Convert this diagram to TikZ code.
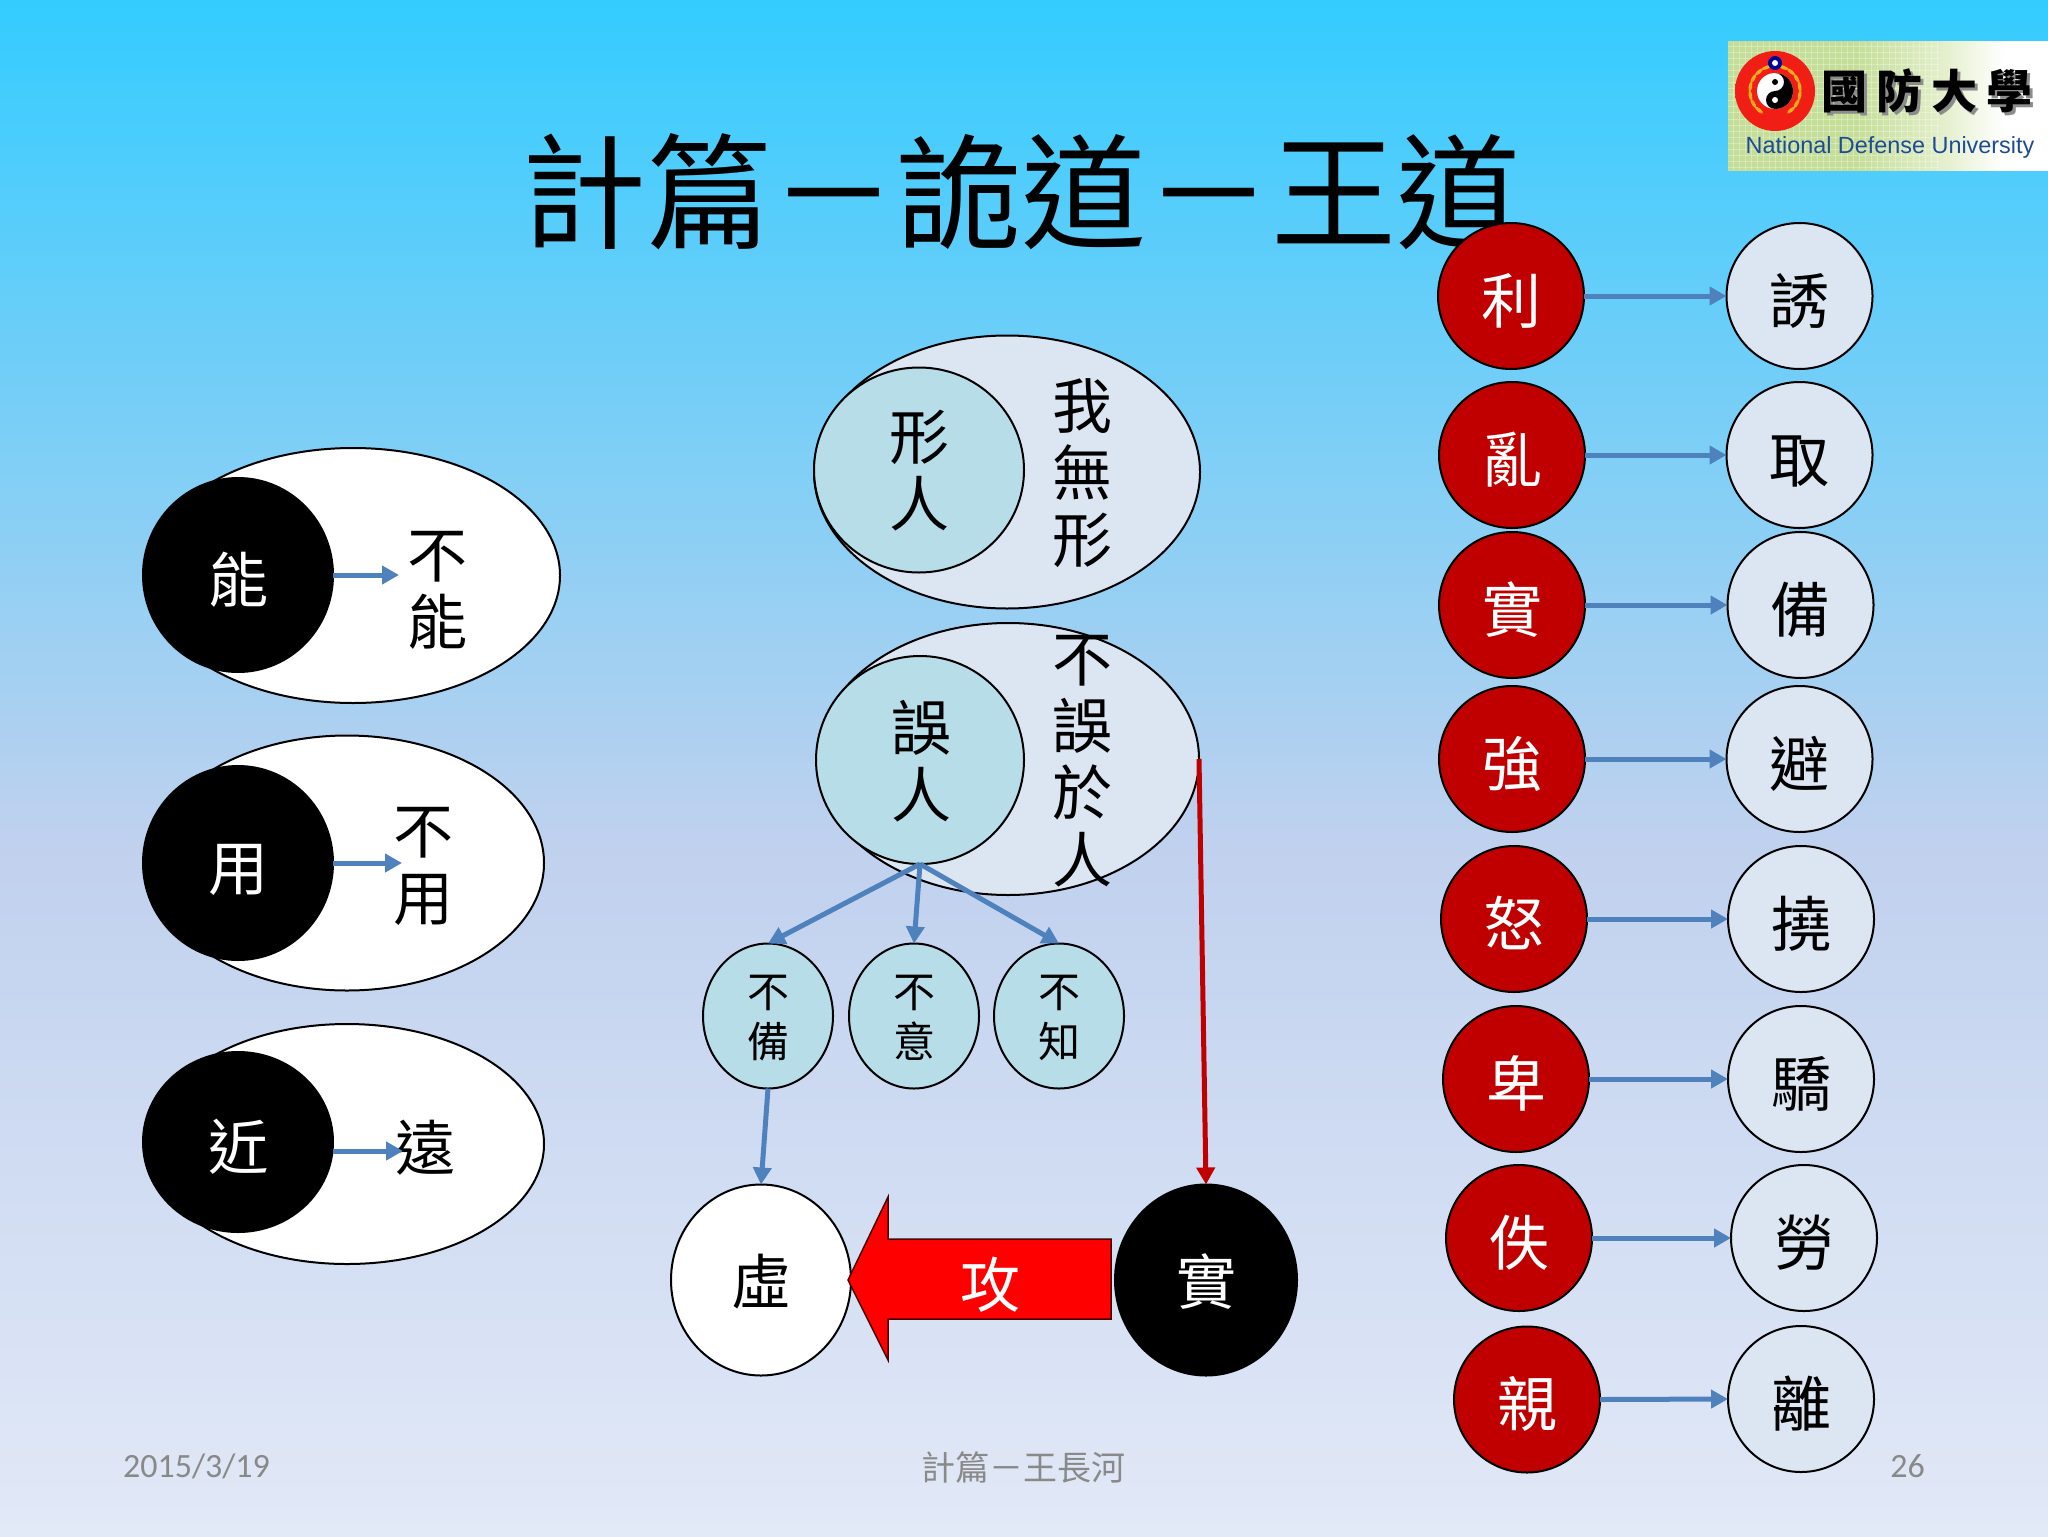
\documentclass[tikz,border=0pt]{standalone}
\usepackage{fontspec}
\setmainfont{Noto Sans CJK TC}
\newfontfamily\carlitofont{Carlito}
\newfontfamily\libfont{Liberation Sans}
\newfontfamily\logofont[LetterSpace=20]{Noto Sans CJK TC}
\usetikzlibrary{shapes.geometric,arrows.meta}
\definecolor{bgT}{RGB}{51,204,255}
\definecolor{bgM}{RGB}{192,209,238}
\definecolor{bgB}{RGB}{226,233,247}
\definecolor{pale}{RGB}{220,230,242}
\definecolor{aqua}{RGB}{183,222,232}
\definecolor{darkred}{RGB}{192,0,0}
\definecolor{linkblue}{RGB}{79,129,189}
\definecolor{footgrey}{RGB}{137,137,137}
\definecolor{logoG}{RGB}{196,222,152}
\definecolor{logoM}{RGB}{226,238,200}
\definecolor{logoB}{RGB}{30,75,150}
\definecolor{glowred}{RGB}{240,30,20}
\definecolor{laurel}{RGB}{250,170,30}
\pgfdeclareverticalshading{bgsh}{100bp}{color(0bp)=(bgB); color(25bp)=(bgB); color(47.5bp)=(bgM); color(75bp)=(bgT); color(100bp)=(bgT)}
\pgfdeclarehorizontalshading{logosh}{100bp}{color(0bp)=(logoG); color(25bp)=(logoG); color(45bp)=(logoG); color(58bp)=(logoM); color(68bp)=(white); color(100bp)=(white)}
\pgfdeclareradialshading{glowsh}{\pgfpoint{0bp}{0bp}}{color(0bp)=(glowred); color(36bp)=(glowred); color(50bp)=(logoG); color(100bp)=(logoG)}
\newcommand{\fsz}[2]{\fontsize{#1}{#2}\selectfont}
\tikzset{
  oval/.style 2 args={ellipse,draw=black,line width=1pt,inner sep=0pt,outer sep=0pt,minimum width=#1 pt,minimum height=#2 pt},
  bigtext/.style={font=\fsz{30}{33.5},align=center,inner sep=0pt},
  smalltext/.style={font=\fsz{21}{25},align=center,inner sep=0pt},
  midglyph/.style={font=\fsz{30}{33},text height=27pt,text depth=0pt},
  lowglyph/.style={font=\fsz{30}{33},text height=24pt,text depth=0pt},
  blackball/.style 2 args={oval={#1}{#2},fill=black,text=white,midglyph},
  redball/.style={oval={73}{73},fill=darkred,text=white,midglyph},
  paleball/.style={oval={73}{73},fill=pale,text=black,midglyph},
  whiteoval/.style 2 args={oval={#1}{#2},fill=white},
  paleoval/.style 2 args={oval={#1}{#2},fill=pale},
  aquaball/.style 2 args={oval={#1}{#2},fill=aqua},
  link/.style={draw=linkblue,line width=2.5pt,-{Triangle[length=8.5pt,width=9pt]}},
  redlink/.style={draw=darkred,line width=2.5pt,-{Triangle[length=8.5pt,width=9pt]}},
  foot/.style={text=footgrey,inner sep=0pt},
}
\begin{document}
\begin{tikzpicture}[x=0.5pt,y=-0.5pt]
\useasboundingbox (0,0) rectangle (2048,1536);
\shade[shading=bgsh] (0,0) rectangle (2048,1536);

% logo
\shade[shading=logosh] (1728,42) rectangle (2048,170);
\foreach \gx in {1733,1739,...,1940} \draw[white,opacity=.3,line width=.5pt] (\gx,42) -- (\gx,170);
\foreach \gy in {47,53,...,170} \draw[white,opacity=.3,line width=.5pt] (1728,\gy) -- (1940,\gy);
\shade[shading=glowsh] (1775,91) circle[radius=40];
\foreach \a in {-50,-30,...,70} {
  \fill[laurel,rotate around={\a:(1775,91)}] (1800,91) ellipse[x radius=1.8,y radius=5];
}
\foreach \a in {110,130,...,230} {
  \fill[laurel,rotate around={\a:(1775,91)}] (1800,91) ellipse[x radius=1.8,y radius=5];
}
\fill[white] (1775,91) circle[radius=18];
\fill[black] (1775,73) arc[start angle=-90,end angle=90,radius=18]
  arc[start angle=90,end angle=270,radius=9]
  arc[start angle=90,end angle=-90,radius=9] -- cycle;
\fill[black] (1775,82) circle[radius=3];
\fill[white] (1775,100) circle[radius=3];
\fill[blue!60!black] (1775,63) circle[radius=7];
\fill[white] (1775,63) circle[radius=3];
\node[inner sep=0pt,text=black!45] at (1930,94) {\logofont\bfseries\fsz{23}{23}國防大學};
\node[inner sep=0pt,text=black] (logotitle) at (1927,91) {\logofont\bfseries\fsz{23}{23}國防大學};
\node[inner sep=0pt,text=logoB] (logosub) at (1890,147) {\libfont\fsz{11.7}{12}National Defense University};

% title
\node[inner sep=0pt,font=\fsz{62.5}{62.5}] (title) at (1021,192) {計篇－詭道－王道};

% left group
\node[whiteoval={207}{127.5}] (e1) at (353,575.5) {};
\node[blackball={95}{97}] (b1) at (238,575) {能};
\node[bigtext] at (437,590) {不\\能};
\coordinate (t1) at (399,575);
\draw[link] (b1.east) -- (t1);

\node[whiteoval={197}{127.5}] (e2) at (347,863) {};
\node[blackball={95}{97}] (b2) at (238,863) {用};
\node[bigtext] at (423,866) {不\\用};
\coordinate (t2) at (402,863);
\draw[link] (b2.east) -- (t2);

\node[whiteoval={197}{120}] (e3) at (347,1144) {};
\node[blackball={95}{90}] (b3) at (238,1142) {近};
\node[lowglyph,inner sep=0pt] at (425,1146) {遠};
\coordinate (t3) at (403,1151);
\draw[link] (b3.east |- t3) -- (t3);

% centre group
\node[paleoval={193}{136.5}] (e4) at (1007,472) {};
\node[aquaball={105}{102.5}] (n4) at (919,470) {};
\node[bigtext] at (919,471) {形\\人};
\node[bigtext] at (1082,473) {我\\無\\形};

\node[paleoval={191}{136}] (e5) at (1008,759) {};
\node[aquaball={104}{104}] (n5) at (920,760) {};
\node[bigtext] at (921,761) {誤\\人};
\node[bigtext] at (1082,761) {不\\誤\\於\\人};

\node[aquaball={65}{72.5}] (c1) at (768,1016) {};
\node[aquaball={65}{72.5}] (c2) at (914,1016) {};
\node[aquaball={65}{72.5}] (c3) at (1059,1016) {};
\node[smalltext] at (768,1018) {不\\備};
\node[smalltext] at (914,1018) {不\\意};
\node[smalltext] at (1059,1018) {不\\知};
\draw[link] (n5.south) -- (c1.north);
\draw[link] (n5.south) -- (c2.north);
\draw[link] (n5.south) -- (c3.north);

\node[whiteoval={90}{95.5},lowglyph] (xu) at (761,1280) {虛};
\node[oval={91}{95.5},fill=black,text=white,lowglyph] (shi) at (1206,1280) {實};
\draw[link] (c1.south) -- (xu.north);
\draw[redlink] (e5.east) -- (shi.north);

\draw[draw=black!70!red,line width=.75pt,fill=red] (848,1280) -- (888,1197) -- (888,1239) -- (1111,1239)
  -- (1111,1319) -- (888,1319) -- (888,1360) -- cycle;
\node[lowglyph,text=white,inner sep=0pt] (gong) at (990,1283) {攻};

% right group
\node[redball] (r1) at (1511,296) {利};
\node[redball] (r2) at (1512,455) {亂};
\node[redball] (r3) at (1512,605) {實};
\node[redball] (r4) at (1512,759) {強};
\node[redball] (r5) at (1514,919) {怒};
\node[redball] (r6) at (1516,1079) {卑};
\node[redball] (r7) at (1519,1238) {佚};
\node[redball] (r8) at (1527,1399.5) {親};
\node[paleball] (p1) at (1799.5,296) {誘};
\node[paleball] (p2) at (1799.5,455) {取};
\node[paleball] (p3) at (1800.5,605) {備};
\node[paleball] (p4) at (1799.5,759) {避};
\node[paleball] (p5) at (1801,919) {撓};
\node[paleball] (p6) at (1801,1079) {驕};
\node[paleball] (p7) at (1804,1238) {勞};
\node[paleball] (p8) at (1801,1399) {離};
\foreach \k in {1,...,8} \draw[link] (r\k.east) -- (p\k.west);

% footer
\node[foot,font=\carlitofont\fsz{17}{17}] (date) at (196.5,1466) {2015/3/19};
\node[foot,font=\fsz{17}{17}] (ftitle) at (1023,1467) {計篇－王長河};
\node[foot,font=\carlitofont\fsz{17}{17}] (pg) at (1907.5,1466) {26};
\end{tikzpicture}
\end{document}
